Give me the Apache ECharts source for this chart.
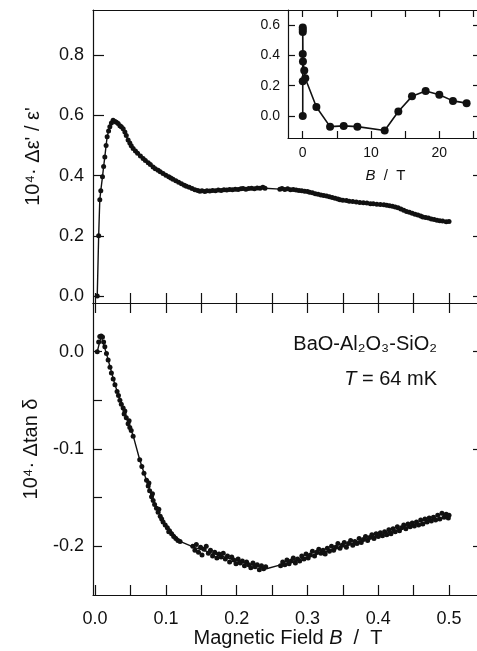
<!DOCTYPE html>
<html>
<head>
<meta charset="utf-8">
<script src="https://cdn.jsdelivr.net/npm/echarts@6/dist/echarts.min.js"></script>
<style>
  html, body { margin: 0; padding: 0; background: #fff; }
  #chart { width: 477px; height: 651px; }
</style>
</head>
<body>
<div id="chart"></div>
<script>
// dielectric constant change, main panel  [B (T), 1e4 * d eps / eps]
const epsData = [
  [0.003,0.000],[0.005,0.20],[0.0066,0.32],[0.008,0.35],[0.0104,0.396],[0.012,0.43],[0.0137,0.462],
  [0.0155,0.50],[0.017,0.529],[0.019,0.548],[0.0208,0.562],[0.023,0.575],[0.0254,0.584],[0.028,0.580],
  [0.030,0.577],[0.0325,0.573],[0.035,0.566],[0.037,0.562],[0.0396,0.556],[0.042,0.545],[0.044,0.533],
  [0.0466,0.518],[0.049,0.508],[0.051,0.499],[0.0537,0.490],[0.057,0.482],[0.060,0.474],[0.064,0.465],
  [0.0678,0.457],[0.071,0.450],[0.075,0.443],[0.078,0.437],[0.0819,0.429],[0.085,0.423],[0.089,0.418],
  [0.092,0.413],[0.096,0.407],[0.100,0.401],[0.104,0.396],[0.107,0.392],[0.110,0.388],[0.114,0.383],
  [0.118,0.378],[0.122,0.373],[0.126,0.368],[0.129,0.365],[0.133,0.361],[0.137,0.357],[0.141,0.353],
  [0.145,0.351],[0.148,0.348],[0.151,0.350],[0.155,0.347],[0.158,0.350],[0.162,0.349],[0.166,0.351],
  [0.170,0.350],[0.174,0.352],[0.178,0.351],[0.182,0.353],[0.186,0.352],[0.190,0.354],[0.194,0.353],
  [0.198,0.355],[0.202,0.354],[0.206,0.356],[0.209,0.357],[0.213,0.355],[0.217,0.357],[0.221,0.358],
  [0.225,0.356],[0.229,0.359],[0.233,0.358],[0.237,0.361],[0.240,0.358],
  [0.261,0.355],[0.264,0.357],[0.268,0.354],[0.272,0.356],[0.276,0.353],[0.280,0.354],[0.284,0.352],
  [0.288,0.351],[0.292,0.350],[0.296,0.348],[0.300,0.347],[0.303,0.345],[0.307,0.343],[0.311,0.340],
  [0.315,0.338],[0.319,0.336],[0.323,0.334],[0.327,0.332],[0.331,0.330],[0.335,0.327],[0.339,0.325],
  [0.343,0.322],[0.346,0.320],[0.350,0.318],[0.355,0.317],[0.359,0.315],[0.364,0.314],[0.369,0.312],
  [0.374,0.311],[0.379,0.310],[0.384,0.309],[0.389,0.307],[0.393,0.307],[0.398,0.305],[0.403,0.304],
  [0.408,0.303],[0.412,0.302],[0.416,0.300],[0.420,0.298],[0.424,0.296],[0.428,0.293],[0.432,0.289],
  [0.436,0.285],[0.440,0.281],[0.444,0.278],[0.448,0.275],[0.452,0.272],[0.456,0.269],[0.460,0.266],
  [0.463,0.263],[0.467,0.261],[0.471,0.259],[0.475,0.256],[0.479,0.254],[0.483,0.252],[0.487,0.250],
  [0.491,0.249],[0.496,0.247],[0.500,0.248]
];

// loss tangent change, measured points  [B (T), 1e4 * d tan delta]
const lossData = [
  [0.003,0.000],[0.005,0.010],[0.0066,0.0155],[0.0085,0.016],[0.0104,0.015],[0.012,0.010],[0.0137,0.005],
  [0.016,-0.002],[0.0184,-0.0085],[0.021,-0.016],[0.023,-0.022],[0.0255,-0.028],[0.028,-0.034],[0.031,-0.041],
  [0.033,-0.045],[0.035,-0.050],[0.037,-0.054],[0.0396,-0.058],[0.041,-0.064],[0.042,-0.061],[0.044,-0.068],
  [0.0466,-0.074],[0.048,-0.071],[0.049,-0.078],[0.051,-0.081],[0.0537,-0.087],[0.063,-0.111],[0.066,-0.118],
  [0.069,-0.125],[0.0726,-0.132],[0.075,-0.138],[0.076,-0.135],[0.077,-0.143],[0.0797,-0.149],[0.081,-0.146],
  [0.082,-0.153],[0.084,-0.157],[0.0867,-0.161],[0.089,-0.165],[0.090,-0.162],[0.092,-0.169],[0.094,-0.172],
  [0.096,-0.175],[0.099,-0.178],[0.102,-0.181],[0.104,-0.185],[0.105,-0.184],[0.108,-0.187],[0.111,-0.190],
  [0.114,-0.192],[0.117,-0.194],[0.120,-0.195],
  [0.138,-0.200],[0.141,-0.204],[0.143,-0.198],[0.146,-0.206],[0.149,-0.201],[0.151,-0.209],[0.154,-0.203],
  [0.157,-0.200],[0.160,-0.207],[0.163,-0.204],[0.166,-0.210],[0.169,-0.206],[0.172,-0.212],[0.175,-0.208],
  [0.178,-0.211],[0.181,-0.207],[0.184,-0.213],[0.187,-0.210],[0.190,-0.216],[0.193,-0.211],[0.196,-0.214],
  [0.199,-0.218],[0.202,-0.213],[0.205,-0.217],[0.208,-0.215],[0.211,-0.220],[0.214,-0.216],[0.217,-0.219],
  [0.220,-0.222],[0.223,-0.217],[0.226,-0.221],[0.229,-0.219],[0.232,-0.224],[0.235,-0.220],[0.238,-0.223],
  [0.241,-0.221],
  [0.262,-0.220],[0.265,-0.216],[0.268,-0.219],[0.271,-0.214],[0.274,-0.218],[0.277,-0.215],[0.280,-0.212],
  [0.283,-0.217],[0.286,-0.213],[0.289,-0.215],[0.292,-0.210],[0.295,-0.213],[0.298,-0.208],[0.301,-0.212],
  [0.304,-0.209],[0.307,-0.205],[0.310,-0.210],[0.313,-0.206],[0.316,-0.203],[0.319,-0.207],[0.322,-0.204],
  [0.325,-0.208],[0.328,-0.202],[0.331,-0.205],[0.334,-0.200],[0.337,-0.204],[0.340,-0.201],[0.343,-0.197],
  [0.346,-0.202],[0.349,-0.199],[0.352,-0.196],[0.355,-0.201],[0.358,-0.197],[0.361,-0.194],[0.364,-0.199],
  [0.367,-0.195],[0.370,-0.197],[0.373,-0.192],[0.376,-0.196],[0.379,-0.193],[0.382,-0.190],[0.385,-0.194],
  [0.388,-0.191],[0.391,-0.188],[0.394,-0.192],[0.397,-0.187],[0.400,-0.190],[0.403,-0.186],[0.406,-0.189],
  [0.409,-0.185],[0.412,-0.188],[0.415,-0.183],[0.418,-0.187],[0.421,-0.182],[0.424,-0.185],[0.427,-0.180],
  [0.430,-0.184],[0.433,-0.181],[0.436,-0.178],[0.439,-0.182],[0.442,-0.177],[0.445,-0.180],[0.448,-0.176],
  [0.451,-0.179],[0.454,-0.175],[0.457,-0.178],[0.460,-0.173],[0.463,-0.177],[0.466,-0.172],[0.469,-0.175],
  [0.472,-0.171],[0.475,-0.174],[0.478,-0.170],[0.481,-0.173],[0.484,-0.168],[0.487,-0.172],[0.490,-0.166],
  [0.493,-0.170],[0.496,-0.167],[0.499,-0.171],[0.500,-0.168]
];

// line drawn through the loss points
const lossTrend = [
  [0.003,0.000],[0.0085,0.016],[0.016,-0.002],[0.028,-0.034],[0.040,-0.059],[0.054,-0.087],[0.063,-0.111],
  [0.080,-0.149],[0.096,-0.175],[0.120,-0.195],[0.140,-0.201],[0.170,-0.208],[0.200,-0.215],[0.242,-0.223],
  [0.262,-0.219],[0.300,-0.211],[0.350,-0.200],[0.400,-0.189],[0.450,-0.178],[0.500,-0.169]
];

// inset: high field data  [B (T), 1e4 * d eps / eps]
const insetData = [
  [0,0.0],[0,0.23],[0,0.41],[0,0.555],[0,0.57],[0,0.585],[0.03,0.36],[0.22,0.30],[0.37,0.25],
  [2,0.06],[4,-0.07],[6,-0.065],[8,-0.07],[12,-0.095],[14,0.03],[16,0.13],[18,0.165],[20,0.14],
  [22,0.10],[24,0.085]
];

const fieldTicks = [0,0.05,0.1,0.15,0.2,0.25,0.3,0.35,0.4,0.45,0.5];
const fieldLabels = [0,0.1,0.2,0.3,0.4,0.5];
const epsTicks = [0,0.2,0.4,0.6,0.8];
const epsRightTicks = [0,0.2,0.4];
const lossTicks = [-0.2,-0.15,-0.1,-0.05,0];
const lossLabels = [-0.2,-0.1,0];
const insetXTicks = [0,5,10,15,20,25];
const insetXLabels = [0,10,20];
const insetYTicks = [0,0.2,0.4,0.6];

const FONT = "'Liberation Sans', Arial, sans-serif";
const INK = '#111';

const chart = echarts.init(document.getElementById('chart'));

function tickAxis(extra) {
  return Object.assign({
    type: 'value',
    axisLine: { show: true, onZero: false, lineStyle: { color: INK, width: 1.2 } },
    splitLine: { show: false },
    axisLabel: { show: false },
    axisTick: { show: false }
  }, extra);
}
function ticks(values, len, inside) {
  return { show: true, customValues: values, length: len, inside: inside,
    lineStyle: { color: INK, width: 1.2 } };
}
function labels(values, size, margin, digits) {
  return { show: true, customValues: values, color: INK, fontFamily: FONT, fontSize: size,
    margin: margin, formatter: v => digits ? v.toFixed(digits) : String(v) };
}

const topRange = { min: -0.023, max: 0.95 };
const lossRange = { min: -0.25, max: 0.05 };
const fieldRange = { min: -0.003, max: 0.548 };
const insetX = { min: -2.16, max: 26.4 };
const insetY = { min: -0.145, max: 0.7 };

const option = {
  animation: false,
  backgroundColor: '#fff',
  grid: [
    { left: 93, top: 10, width: 390, height: 293, outerBoundsMode: 'none' },
    { left: 93, top: 303, width: 390, height: 292, outerBoundsMode: 'none' },
    { left: 288, top: 10, width: 195, height: 128, outerBoundsMode: 'none' }
  ],
  xAxis: [
    tickAxis(Object.assign({ gridIndex: 0, position: 'bottom',
      axisTick: ticks(fieldTicks, 10, false) }, fieldRange)),
    tickAxis(Object.assign({ gridIndex: 0, position: 'top' }, fieldRange)),
    tickAxis(Object.assign({ gridIndex: 1, position: 'bottom',
      axisTick: ticks(fieldTicks, 10, true),
      axisLabel: labels(fieldLabels, 18, 15, 1),
      name: '{a|Magnetic Field }{i|B}{a|  /  T}', nameLocation: 'middle', nameGap: 33,
      nameTextStyle: { rich: {
        a: { fontFamily: FONT, fontSize: 20, color: INK },
        i: { fontFamily: FONT, fontSize: 20, color: INK, fontStyle: 'italic' } } } }, fieldRange)),
    tickAxis(Object.assign({ gridIndex: 1, position: 'top',
      axisTick: ticks(fieldTicks, 10, false) }, fieldRange)),
    tickAxis(Object.assign({ gridIndex: 2, position: 'bottom',
      axisTick: ticks(insetXTicks, 7, true),
      axisLabel: labels(insetXLabels, 14, 8, 0),
      name: '{i|B}{a|  /  T}', nameLocation: 'middle', nameGap: 30,
      nameTextStyle: { rich: {
        a: { fontFamily: FONT, fontSize: 15, color: INK },
        i: { fontFamily: FONT, fontSize: 15, color: INK, fontStyle: 'italic' } } } }, insetX)),
    tickAxis(Object.assign({ gridIndex: 2, position: 'top',
      axisTick: ticks(insetXTicks, 7, true) }, insetX))
  ],
  yAxis: [
    tickAxis(Object.assign({ gridIndex: 0, position: 'left',
      axisTick: ticks(epsTicks, 11, true),
      axisLabel: labels(epsTicks, 18, 9, 1),
      name: "10⁴· Δε' / ε'", nameLocation: 'middle', nameGap: 50,
      nameTextStyle: { fontFamily: FONT, fontSize: 20, color: INK } }, topRange)),
    tickAxis(Object.assign({ gridIndex: 0, position: 'right',
      axisTick: ticks(epsRightTicks, 10, true) }, topRange)),
    tickAxis(Object.assign({ gridIndex: 1, position: 'left',
      axisTick: ticks(lossTicks, 9, true),
      axisLabel: labels(lossLabels, 18, 9, 1),
      name: '10⁴· Δtan δ', nameLocation: 'middle', nameGap: 52,
      nameTextStyle: { fontFamily: FONT, fontSize: 20, color: INK } }, lossRange)),
    tickAxis(Object.assign({ gridIndex: 1, position: 'right',
      axisTick: ticks(lossLabels, 10, true) }, lossRange)),
    tickAxis(Object.assign({ gridIndex: 2, position: 'left',
      axisTick: ticks(insetYTicks, 7, true),
      axisLabel: labels(insetYTicks, 14, 8, 1) }, insetY)),
    tickAxis(Object.assign({ gridIndex: 2, position: 'right',
      axisTick: ticks(insetYTicks, 10, true) }, insetY))
  ],
  series: [
    { type: 'line', xAxisIndex: 0, yAxisIndex: 0, data: epsData,
      symbol: 'circle', symbolSize: 5, showAllSymbol: true,
      lineStyle: { color: INK, width: 1.4 }, itemStyle: { color: INK } },
    { type: 'line', xAxisIndex: 2, yAxisIndex: 2, data: lossTrend, showSymbol: false,
      lineStyle: { color: INK, width: 1.4 } },
    { type: 'scatter', xAxisIndex: 2, yAxisIndex: 2, data: lossData,
      symbol: 'circle', symbolSize: 5, itemStyle: { color: INK, opacity: 1 } },
    { type: 'line', xAxisIndex: 4, yAxisIndex: 4, data: insetData,
      symbol: 'circle', symbolSize: 8, showAllSymbol: true,
      lineStyle: { color: INK, width: 1.6 }, itemStyle: { color: INK } }
  ],
  graphic: [
    { type: 'text', right: 40, top: 334, z: 10,
      style: { text: 'BaO-Al₂O₃-SiO₂', font: '20px ' + FONT, fill: INK, align: 'right' } },
    { type: 'text', right: 40, top: 369, z: 10,
      style: { text: '{i|T}{a| = 64 mK}', fill: INK, align: 'right',
        rich: { a: { fontFamily: FONT, fontSize: 20, fill: INK },
                i: { fontFamily: FONT, fontSize: 20, fill: INK, fontStyle: 'italic' } } } }
  ]
};

chart.setOption(option);
</script>
</body>
</html>
